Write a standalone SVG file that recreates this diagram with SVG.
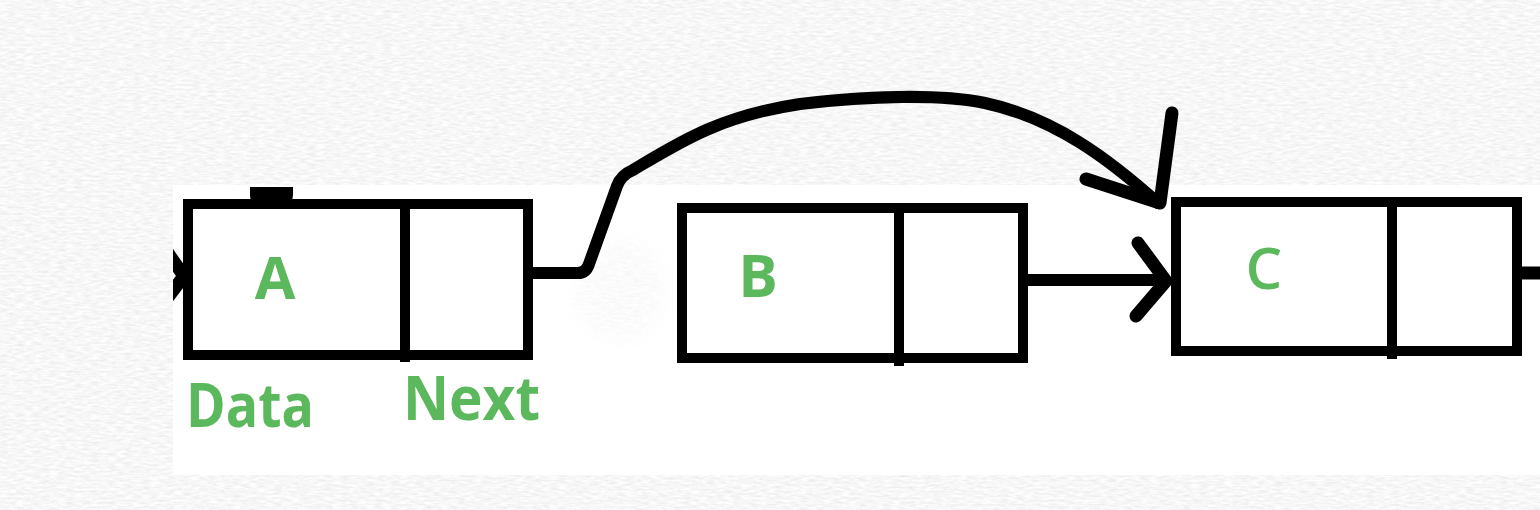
<svg xmlns="http://www.w3.org/2000/svg" width="1540" height="510" viewBox="0 0 1540 510">
<defs>
<filter id="paper" x="0" y="0" width="1540" height="510" filterUnits="userSpaceOnUse">
<feTurbulence type="fractalNoise" baseFrequency="0.12 0.45" numOctaves="3" seed="7" result="n"/>
<feColorMatrix in="n" type="matrix" values="0.26 0 0 0 0.8  0.26 0 0 0 0.8  0.26 0 0 0 0.8  0 0 0 0 1"/>
</filter>
<filter id="blob" x="0" y="0" width="1540" height="510" filterUnits="userSpaceOnUse">
<feTurbulence type="fractalNoise" baseFrequency="0.12 0.45" numOctaves="3" seed="3" result="n"/>
<feColorMatrix in="n" type="matrix" values="0.26 0 0 0 0.8  0.26 0 0 0 0.8  0.26 0 0 0 0.8  0 0 0 0 1" result="g"/>
<feGaussianBlur in="SourceAlpha" stdDeviation="10" result="a"/>
<feComposite in="g" in2="a" operator="in"/>
</filter>
<clipPath id="whiteclip"><rect x="173" y="185" width="1367" height="290"/></clipPath>
<style>
.box{fill:#ffffff;stroke:#000;stroke-width:10}
.div{stroke:#000;stroke-width:10;stroke-linecap:butt}
.wire{fill:none;stroke:#000;stroke-width:12;stroke-linecap:round;stroke-linejoin:round}
.head{fill:none;stroke:#000;stroke-width:13;stroke-linecap:round;stroke-linejoin:round}
.lbl{fill:#5cb85c;font-family:"Open Sans","Liberation Sans",sans-serif;font-weight:700}
.cap{fill:#5cb85c;font-family:"Open Sans","Liberation Sans",sans-serif;font-weight:700;font-size:60px}
</style>
</defs>
<rect x="0" y="0" width="1540" height="510" fill="#eeeeee"/>
<rect x="0" y="0" width="1540" height="510" filter="url(#paper)"/>
<rect x="173" y="185" width="1367" height="290" fill="#ffffff"/>
<ellipse cx="620" cy="290" rx="45" ry="50" fill="#000" filter="url(#blob)" opacity="0.45"/>

<g id="connectors">
<path class="wire" d="M528,273 L578,273 Q586,273 589,264 L617,186 Q621,175 633,170 C680,142 720,116 800,104 C870,96 940,94 985,103 C1055,118 1110,160 1158,203"/>
<path class="head" d="M1172,113 L1160,203 L1086,179"/>
<path class="wire" d="M1024,280 L1164,280"/>
<path class="head" d="M1138,243 L1166,281 L1136,316"/>
<path class="wire" d="M1517,273 L1540,273" style="stroke-linecap:butt;stroke-width:13"/>
<g clip-path="url(#whiteclip)">
<path class="head" d="M165,249 L184,276 L165,301"/>
</g>
</g>

<g id="nodeA">
<path d="M250,187 L293,187 L293,195 Q293,205 283,205 L260,205 Q250,205 250,195 Z" fill="#000"/>
<rect class="box" x="188" y="204" width="340" height="151"/>
<line class="div" x1="405" y1="204" x2="405" y2="362"/>
<text class="lbl" x="275" y="299" font-size="59" text-anchor="middle">A</text>
</g>

<g id="nodeB">
<rect class="box" x="682" y="208" width="341" height="150"/>
<line class="div" x1="899" y1="208" x2="899" y2="366"/>
<text class="lbl" x="758" y="297" font-size="59" text-anchor="middle">B</text>
</g>

<g id="nodeC">
<rect class="box" x="1176" y="202" width="341" height="149"/>
<line class="div" x1="1392" y1="202" x2="1392" y2="359"/>
<text class="lbl" x="1264" y="289" font-size="58" text-anchor="middle" style="font-weight:600">C</text>
</g>

<g id="labels">
<text class="cap" x="186" y="427" textLength="128" lengthAdjust="spacingAndGlyphs">Data</text>
<text class="cap" x="403" y="420" textLength="137" lengthAdjust="spacingAndGlyphs">Next</text>
</g>
</svg>
